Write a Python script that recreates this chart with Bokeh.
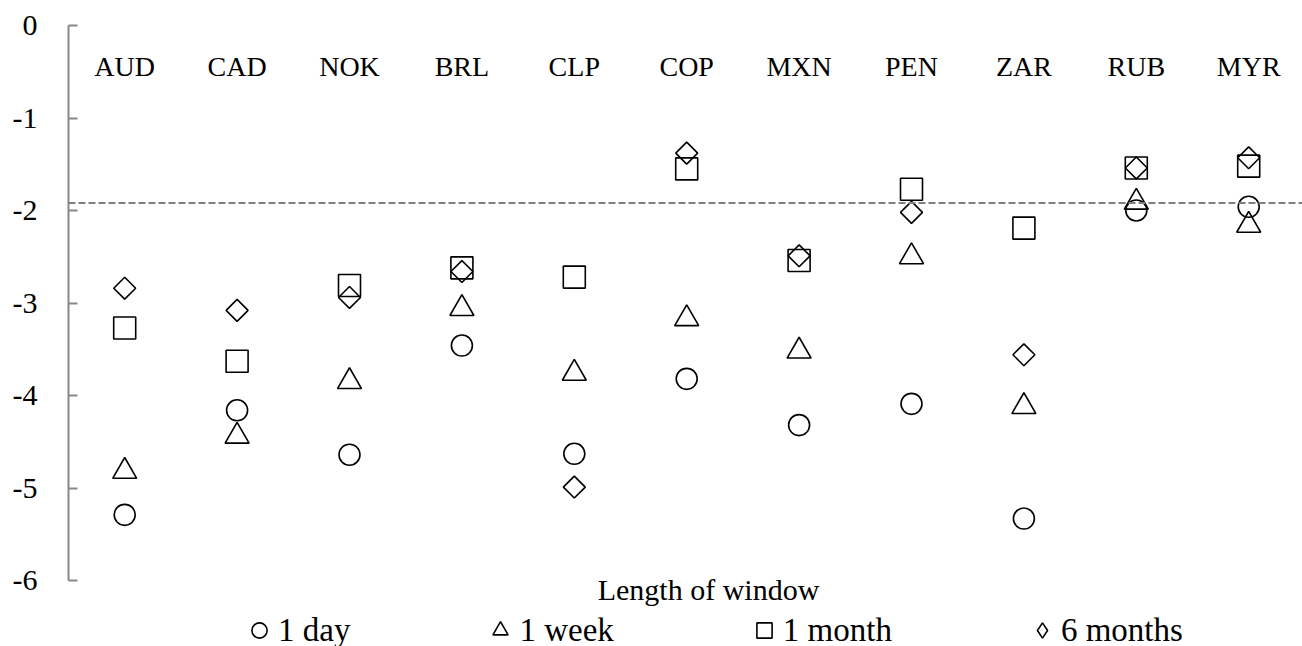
import math
from bokeh.plotting import figure
from bokeh.models import (ColumnDataSource, Range1d, FixedTicker, Span, Label,
                          Legend, LegendItem)
from bokeh.core.properties import value
from bokeh.embed import file_html
from bokeh.resources import INLINE

# ---------------- data ----------------
currencies = ["AUD", "CAD", "NOK", "BRL", "CLP", "COP", "MXN", "PEN", "ZAR", "RUB", "MYR"]
one_day = [-5.29, -4.16, -4.64, -3.46, -4.63, -3.82, -4.32, -4.09, -5.33, -2.00, -1.96]
one_week = [-4.82, -4.44, -3.85, -3.06, -3.76, -3.17, -3.52, -2.50, -4.12, -1.91, -2.16]
one_month = [-3.27, -3.63, -2.81, -2.62, -2.72, -1.55, -2.54, -1.77, -2.19, -1.54, -1.52]
six_months = [-2.84, -3.08, -2.94, -2.66, -4.99, -1.38, -2.49, -2.02, -3.56, -1.54, -1.43]
reference_level = -1.92
y_ticks = [-6, -5, -4, -3, -2, -1, 0]
series_labels = ["1 day", "1 week", "1 month", "6 months"]
x_title = "Length of window"

FONT = "Liberation Serif"

idx = list(range(len(currencies)))
src = ColumnDataSource(dict(x=idx, cur=currencies, day=one_day, week=one_week,
                            month=one_month, six=six_months))

p = figure(width=1302, height=646, output_backend="svg", toolbar_location=None,
           x_range=Range1d(-0.5, -0.5 + 1234 / 112.4),
           y_range=Range1d(-6.7135, 0),
           x_axis_type=None,
           min_border_left=68, min_border_right=0, min_border_top=25, min_border_bottom=0)
p.outline_line_color = None
p.xgrid.visible = False
p.ygrid.visible = False
p.background_fill_color = "white"
p.border_fill_color = "white"

# y axis
ax = p.yaxis[0]
ax.ticker = FixedTicker(ticks=y_ticks)
ax.major_label_overrides = {t: str(t) for t in y_ticks}
ax.bounds = (min(y_ticks), max(y_ticks))
ax.axis_line_color = "#878787"
ax.axis_line_width = 2
ax.major_tick_line_color = "#878787"
ax.major_tick_line_width = 2
ax.major_tick_in = 9
ax.major_tick_out = 0
ax.minor_tick_line_color = None
ax.major_label_standoff = 31
ax.major_label_text_font = FONT
ax.major_label_text_font_size = "30px"
ax.major_label_text_color = "black"

# reference dashed line
p.add_layout(Span(location=reference_level, dimension="width", line_color="#7f7f7f",
                  line_dash="7 3", line_width=2))

# category labels inside plot
p.text(x="x", y=0, text="cur", source=src, text_align="center",
       text_baseline="alphabetic", y_offset=41, text_font=value(FONT),
       text_font_size="28px", text_color="black")

common = dict(fill_color=None, line_color="black", line_width=1.6)
r_day = p.scatter(x="x", y="day", marker="circle", size=21, source=src, **common)
r_week = p.scatter(x="x", y="week", marker="triangle", size=24, source=src, **common)
r_month = p.scatter(x="x", y="month", marker="square", size=22, source=src, **common)
r_six = p.scatter(x="x", y="six", marker="square", angle=math.pi / 4, size=15.5,
                  source=src, **common)
# legend swatch for the diamond series (legend swatches ignore marker angle);
# hidden renderer so it is not drawn twice in the plot
r_six_key = p.scatter(x="x", y="six", marker="diamond", size=15.5, source=src,
                      visible=False, **common)

p.add_layout(Label(x=640, y=57, x_units="screen", y_units="screen", text=x_title,
                   text_align="center", text_baseline="middle", text_font=FONT,
                   text_font_size="30px", text_color="black"))

legend = Legend(items=[LegendItem(label=series_labels[0], renderers=[r_day]),
                       LegendItem(label=series_labels[1], renderers=[r_week]),
                       LegendItem(label=series_labels[2], renderers=[r_month]),
                       LegendItem(label=series_labels[3], renderers=[r_six_key])],
                orientation="horizontal", location=(172, -3),
                glyph_width=38, glyph_height=38, label_standoff=-1, spacing=131,
                padding=0, margin=0, border_line_color=None, background_fill_alpha=0,
                inactive_fill_alpha=0,
                label_text_font=FONT, label_text_font_size="33px",
                label_text_color="black", label_height=38)
p.add_layout(legend)

open("out.html", "w").write(file_html(p, INLINE))
